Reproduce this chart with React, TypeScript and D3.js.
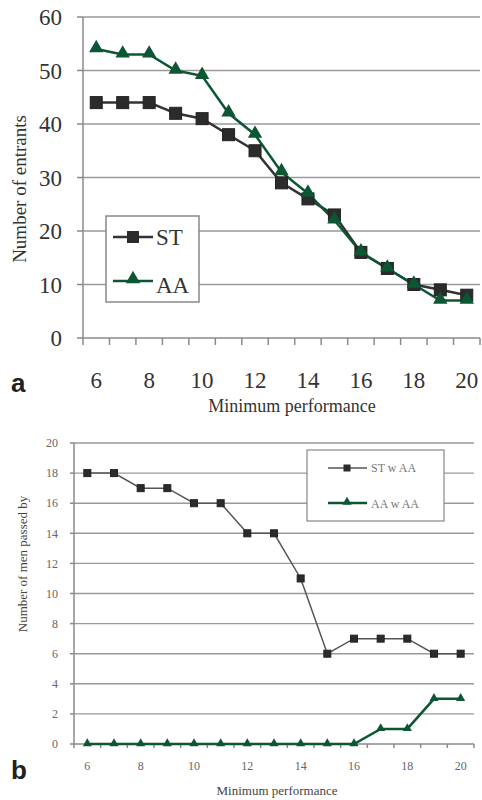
import { useEffect, useRef } from 'react'
import * as d3 from 'd3'

const minPerf = [6, 7, 8, 9, 10, 11, 12, 13, 14, 15, 16, 17, 18, 19, 20]
const entrantsST = [44, 44, 44, 42, 41, 38, 35, 29, 26, 23, 16, 13, 10, 9, 8]
const entrantsAA = [54, 53, 53, 50, 49, 42, 38, 31, 27, 22, 16, 13, 10, 7, 7]
const passedST = [18, 18, 17, 17, 16, 16, 14, 14, 11, 6, 7, 7, 7, 6, 6]
const passedAA = [0, 0, 0, 0, 0, 0, 0, 0, 0, 0, 0, 1, 1, 3, 3]
const xTickLabels = [6, 8, 10, 12, 14, 16, 18, 20]
const topYTicks = [0, 10, 20, 30, 40, 50, 60]
const bottomYTicks = [0, 2, 4, 6, 8, 10, 12, 14, 16, 18, 20]

const GREEN = '#0c5634'
const SERIF = 'Liberation Serif, DejaVu Serif, serif'
const SANS = 'Liberation Sans, Arial, sans-serif'

type PanelOpts = {
  top: number
  bottom: number
  left: number
  right: number
  yMax: number
  yTicks: number[]
  st: number[]
  aa: number[]
  big: boolean
}

function drawPanel(svg: d3.Selection<SVGSVGElement, unknown, null, undefined>, o: PanelOpts) {
  const x = d3.scaleBand<number>().domain(minPerf).range([o.left, o.right])
  const y = d3.scaleLinear().domain([0, o.yMax]).range([o.bottom, o.top])
  const cx = (d: number) => (x(d) as number) + x.bandwidth() / 2
  const g = svg.append('g')

  // gridlines
  g.selectAll('line.grid')
    .data(o.yTicks.filter((t) => t > 0))
    .join('line')
    .attr('x1', o.left)
    .attr('x2', o.right)
    .attr('y1', (d) => y(d))
    .attr('y2', (d) => y(d))
    .attr('stroke', '#9a9a9a')
    .attr('stroke-width', o.big ? 1.6 : 1.4)

  // y axis line + ticks
  g.append('line')
    .attr('x1', o.left).attr('x2', o.left)
    .attr('y1', o.top).attr('y2', o.bottom)
    .attr('stroke', '#8a8a8a').attr('stroke-width', 1.5)
  g.selectAll('line.ytick')
    .data(o.yTicks)
    .join('line')
    .attr('x1', o.left - (o.big ? 6 : 4))
    .attr('x2', o.left)
    .attr('y1', (d) => y(d))
    .attr('y2', (d) => y(d))
    .attr('stroke', '#8a8a8a').attr('stroke-width', 1.5)

  // x axis line + ticks between categories
  g.append('line')
    .attr('x1', o.left).attr('x2', o.right)
    .attr('y1', o.bottom).attr('y2', o.bottom)
    .attr('stroke', '#8a8a8a').attr('stroke-width', 1.5)
  const boundaries = minPerf.map((d) => x(d) as number).concat([o.right])
  g.selectAll('line.xtick')
    .data(boundaries)
    .join('line')
    .attr('x1', (d) => d).attr('x2', (d) => d)
    .attr('y1', o.bottom).attr('y2', o.bottom + (o.big ? 7 : 4))
    .attr('stroke', '#8a8a8a').attr('stroke-width', 1.5)

  // tick labels
  g.selectAll('text.ylab')
    .data(o.yTicks)
    .join('text')
    .attr('x', o.left - (o.big ? 21 : 16))
    .attr('y', (d) => y(d))
    .attr('dy', '0.35em')
    .attr('text-anchor', 'end')
    .style('font-family', SERIF)
    .attr('font-size', o.big ? 23 : 12)
    .attr('fill', o.big ? '#333' : '#666')
    .text((d) => d)
  g.selectAll('text.xlab')
    .data(xTickLabels)
    .join('text')
    .attr('x', (d) => cx(d))
    .attr('y', o.bottom + (o.big ? 50 : 26))
    .attr('text-anchor', 'middle')
    .style('font-family', SERIF)
    .attr('font-size', o.big ? 23 : 12)
    .attr('fill', o.big ? '#333' : '#666')
    .text((d) => d)

  const line = d3.line<number>().x((_, i) => cx(minPerf[i])).y((d) => y(d))

  g.append('path')
    .datum(o.st)
    .attr('fill', 'none')
    .attr('stroke', o.big ? '#333' : '#555')
    .attr('stroke-width', o.big ? 2.5 : 1.5)
    .attr('d', line)
  g.append('path')
    .datum(o.aa)
    .attr('fill', 'none')
    .attr('stroke', GREEN)
    .attr('stroke-width', 2.5)
    .attr('d', line)

  const sq = o.big ? 12 : 7
  g.selectAll('rect.st')
    .data(o.st)
    .join('rect')
    .attr('x', (_, i) => cx(minPerf[i]) - sq / 2)
    .attr('y', (d) => y(d) - sq / 2)
    .attr('width', sq)
    .attr('height', sq)
    .attr('fill', '#2b2b2b')
    .attr('stroke', '#222')
    .attr('stroke-width', 1)

  const tri = d3.symbol().type(d3.symbolTriangle).size(o.big ? 90 : 36)
  g.selectAll('path.aa')
    .data(o.aa)
    .join('path')
    .attr('transform', (d, i) => `translate(${cx(minPerf[i])},${y(d) - (o.big ? 1 : 0.5)})`)
    .attr('d', tri)
    .attr('fill', GREEN)
}

export default function App() {
  const svgRef = useRef<SVGSVGElement>(null)

  useEffect(() => {
    const svg = d3.select(svgRef.current as SVGSVGElement)
    svg.selectAll('*').remove()
    svg.append('rect').attr('width', 482).attr('height', 800).attr('fill', '#fff')

    // panel a
    drawPanel(svg, {
      top: 17, bottom: 338, left: 83, right: 480, yMax: 60,
      yTicks: topYTicks, st: entrantsST, aa: entrantsAA, big: true,
    })
    // panel a legend
    const la = svg.append('g')
    la.append('rect').attr('x', 106).attr('y', 216).attr('width', 93).attr('height', 86)
      .attr('fill', '#fff').attr('stroke', '#888').attr('stroke-width', 1.5)
    la.append('line').attr('x1', 113).attr('x2', 153).attr('y1', 237).attr('y2', 237)
      .attr('stroke', '#333').attr('stroke-width', 2.5)
    la.append('rect').attr('x', 127).attr('y', 231).attr('width', 12).attr('height', 12).attr('fill', '#2b2b2b')
    la.append('text').attr('x', 156).attr('y', 245).style('font-family', SERIF).attr('font-size', 23)
      .attr('fill', '#333').text('ST')
    la.append('line').attr('x1', 113).attr('x2', 153).attr('y1', 281).attr('y2', 281)
      .attr('stroke', GREEN).attr('stroke-width', 2.5)
    la.append('path').attr('transform', 'translate(133,279)')
      .attr('d', d3.symbol().type(d3.symbolTriangle).size(90)).attr('fill', GREEN)
    la.append('text').attr('x', 156).attr('y', 293).style('font-family', SERIF).attr('font-size', 23)
      .attr('fill', '#333').text('AA')

    svg.append('text').attr('transform', 'translate(26,189) rotate(-90)')
      .attr('text-anchor', 'middle').style('font-family', SERIF).attr('font-size', 19)
      .attr('fill', '#333').text('Number of entrants')
    svg.append('text').attr('x', 292).attr('y', 412)
      .attr('text-anchor', 'middle').style('font-family', SERIF).attr('font-size', 18)
      .attr('fill', '#333').text('Minimum performance')
    svg.append('text').attr('x', 11).attr('y', 392).style('font-family', SANS).attr('font-weight', 'bold')
      .attr('font-size', 26).attr('fill', '#222').text('a')

    // panel b
    drawPanel(svg, {
      top: 443, bottom: 744, left: 74, right: 474, yMax: 20,
      yTicks: bottomYTicks, st: passedST, aa: passedAA, big: false,
    })
    const lb = svg.append('g')
    lb.append('rect').attr('x', 307).attr('y', 450).attr('width', 137).attr('height', 71)
      .attr('fill', '#fff').attr('stroke', '#888').attr('stroke-width', 1.2)
    lb.append('line').attr('x1', 328).attr('x2', 367).attr('y1', 468).attr('y2', 468)
      .attr('stroke', '#555').attr('stroke-width', 1.5)
    lb.append('rect').attr('x', 343.5).attr('y', 464.5).attr('width', 7).attr('height', 7).attr('fill', '#2b2b2b')
    lb.append('text').attr('x', 371).attr('y', 472).style('font-family', SERIF).attr('font-size', 12)
      .attr('fill', '#777').text('ST w AA')
    lb.append('line').attr('x1', 328).attr('x2', 367).attr('y1', 503).attr('y2', 503)
      .attr('stroke', GREEN).attr('stroke-width', 2.5)
    lb.append('path').attr('transform', 'translate(347,502)')
      .attr('d', d3.symbol().type(d3.symbolTriangle).size(36)).attr('fill', GREEN)
    lb.append('text').attr('x', 371).attr('y', 508).style('font-family', SERIF).attr('font-size', 12)
      .attr('fill', '#777').text('AA w AA')

    svg.append('text').attr('transform', 'translate(27,564) rotate(-90)')
      .attr('text-anchor', 'middle').style('font-family', SERIF).attr('font-size', 13)
      .attr('fill', '#444').text('Number of men passed by')
    svg.append('text').attr('x', 277).attr('y', 795)
      .attr('text-anchor', 'middle').style('font-family', SERIF).attr('font-size', 13)
      .attr('fill', '#444').text('Minimum performance')
    svg.append('text').attr('x', 11).attr('y', 779).style('font-family', SANS).attr('font-weight', 'bold')
      .attr('font-size', 26).attr('fill', '#222').text('b')
  }, [])

  return (
    <svg
      ref={svgRef}
      width={482}
      height={800}
      viewBox="0 0 482 800"
      style={{ position: 'absolute', left: 0, top: 0 }}
    />
  )
}
